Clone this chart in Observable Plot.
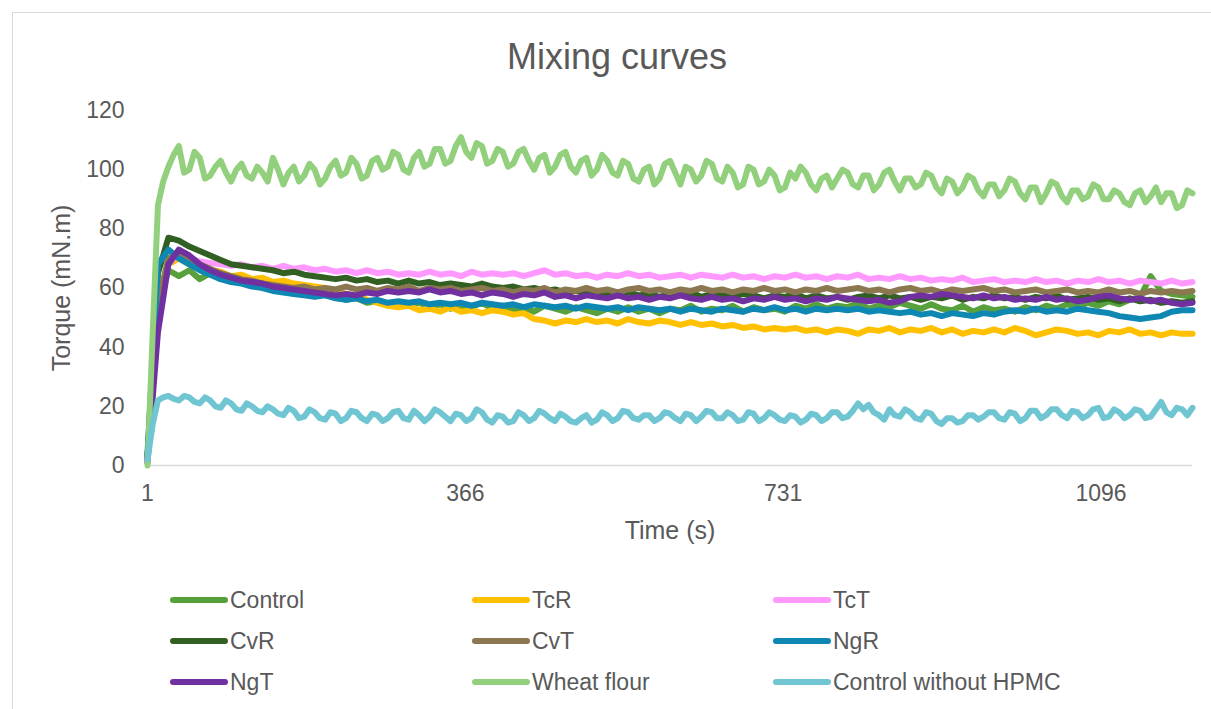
<!DOCTYPE html>
<html><head><meta charset="utf-8">
<script src="https://cdn.jsdelivr.net/npm/d3@7"></script>
<script src="https://cdn.jsdelivr.net/npm/@observablehq/plot@0.6"></script>
<style>
body{margin:0;background:#fff;}
#wrap{position:relative;width:1211px;height:709px;overflow:hidden;font-family:"Liberation Sans",Arial,sans-serif;color:#595959;}
#frame{position:absolute;left:12px;top:12px;width:1300px;height:800px;border:1.5px solid #d9d9d9;box-sizing:border-box;}
#title{position:absolute;left:0;width:1234px;top:35px;text-align:center;font-size:36px;line-height:44px;}
#chart{position:absolute;left:0;top:0;}
.item{position:absolute;display:flex;align-items:center;height:30px;font-size:23px;white-space:nowrap;}
.sw{width:58px;height:6px;border-radius:3px;margin-right:2px;}
</style></head>
<body><div id="wrap"><div id="frame"></div><div id="title">Mixing curves</div><div id="chart"></div></div>
<script>
const seriesNames = ["Control","TcR","TcT","CvR","CvT","NgR","NgT","Wheat flour","Control without HPMC"];
const seriesColors = ["#57a03b","#ffc000","#ff99ff","#325f22","#8b7851","#0f87b3","#7030a0","#92d07d","#6fc5d1"];
const xTicks = [1, 366, 731, 1096];
const yTicks = [0, 20, 40, 60, 80, 100, 120];
const tStart = 1, tEnd = 1201;

const control = [3,55,66,64,66,63,65,63,64,62,
63,61,61.5,60,60.5,58.5,59,57.5,57,56,
56.5,55,55.5,54.5,55,54,55,53.5,54.5,53,
54,53.5,55,53,54,52.5,53.5,52,54,53,
52,53.5,52.5,51.5,53,52,53.5,52,53,51.5,
53,52.5,54,52,53,52.5,54,52,53.5,52.5,
53,52,54,53,54.5,53,54,53.5,55,53,
54,53.5,55,54,53,54.5,53,52.5,54,52,
53.5,52.5,53,52,53.5,52.5,54,53,54.5,53.5,
55,54,55.5,54.5,56,57,64,59,58,57.5,
57];
const tcR = [2,50,68,70,68,67,66,65.5,64,64.5,
63,63.5,62,62.5,61.5,61,60.5,60,59,58,
57.5,56,55,54,53.5,54,52.5,53,52,53.5,
52,52.5,51.5,52.5,52,51,51.5,49.5,49,48,
49,48.5,49.5,48.5,49,48,49.5,48.5,48,49,
48.5,47.5,48.5,47.5,48,47,47.5,46.5,47,46,
46.5,46,46.5,45.5,46,45,46,45.5,44.5,46,
45.5,46.5,45,46,45.5,46.5,45,46,44.5,45.5,
45,46,45,46.5,45.5,44,45,46,45.5,44.5,
45,44,45.5,45,46,44.5,45,44,45,44.5,
44.5];
const tcT = [2,52,68,72,70,69,68.5,68,67.5,68,
67,67.5,66.5,67.5,66.5,67,66,66.5,65.5,66,
65,66,65,65.5,64.5,65,64.5,65.5,64.5,65,
64,65.5,64.5,65,64.5,65,64,65,66,64.5,
65,64,64.5,63.5,64.5,64,65,64,64.5,63.5,
64,64.5,63.5,64.5,64,63.5,64.5,63.5,64,63,
64,63.5,64.5,63.5,64,63,64,63.5,64.5,63,
63.5,63,64,63,63.5,62.5,63,62.5,63.5,62,
62.5,63,62,62.5,62,63,62,62.5,61.5,62.5,
62,63,62,62.5,61.5,62.5,62,61.5,62.5,61.5,
62];
const cvR = [3,65,77,76,74,72.5,71,69.5,68,67.5,
67,66.5,66,65,65.5,64.5,64,63.5,63,63.5,
62.5,63,62,62.5,61.5,62.5,61.5,62,61,61.5,
61,60.5,61.5,60.5,60,60.5,59.5,60,59,59.5,
58.5,59,58,58.5,58,57.5,58.5,57.5,58,57,
58,57.5,58.5,57,58,57.5,57,58,57.5,56.5,
57.5,57,58,56.5,57.5,56.5,57,56,57,57.5,
56.5,57.5,56.5,57,56,57,56.5,57.5,56,57,
56.5,57.5,56.5,57,56,57,56.5,57.5,56,56.5,
57,56,56.5,55.5,56.5,55.5,56,55,55.5,55,
55.5];
const cvT = [2,55,70,72,70,68,66.5,65,64,63,
62.5,61.5,61,60.5,60,60.5,59.5,60,59.5,60.5,
59.5,60,59,60,59.5,60.5,59,60,59.5,60,
59,59.5,60,59,59.5,58.5,59.5,59,60,58.5,
59.5,59,60,59,59.5,58.5,59.5,60,59,59.5,
58.5,59.5,59,60,59,59.5,58.5,59.5,59,60,
59,59.5,58.5,59.5,59,60,59,59.5,60,59,
59.5,58.5,59.5,60,59,59.5,58.5,59.5,59,59.5,
60,59,59.5,58.5,59,59.5,58.5,59,59.5,58.5,
59,58.5,59.5,58.5,59,58,59,58.5,59,58.5,
59];
const ngR = [4,68,73,70,68,66,64.5,63,62,61.5,
60.5,60,59,58.5,58,57.5,57,57.5,56.5,56,
56.5,55.5,56,55,55.5,55,55.5,54.5,55,54.5,
55,54,55,54.5,54,54.5,53.5,54.5,54,53.5,
54,53,54,53.5,53,53.5,52.5,53.5,53,52.5,
53,52,53,52.5,52,53,52.5,52,53,52.5,
53.5,52.5,53,52,53,52.5,53,52.5,53,52,
52.5,52,51.5,52,51,51.5,50.5,51.5,51,50.5,
51.5,51,52,52.5,52,53,52,52.5,52,53,
52.5,52,51.5,50.5,50,49.5,50,50.5,52,52.5,
52.5];
const ngT = [1,45,68,73,71,68,66,64.5,63.5,62.5,
62,61.5,60.5,60,59.5,59,58.5,58,57.5,58,
57.5,58.5,58,59,58.5,59,58.5,59.5,58.5,59,
58,58.5,57.5,58.5,58,57,58,57.5,58.5,57,
57.5,56.5,57.5,57,56.5,57.5,56.5,57,56,57,
56.5,57.5,56.5,56,57,56,56.5,55.5,56.5,56,
57,56,56.5,55.5,56.5,56,57,56.5,56,55.5,
56,55,55.5,57,57.5,57,58,57.5,57,56.5,
57.5,56.5,57,56,56.5,56,57,56,56.5,55.5,
56,57,57.5,56.5,56,56.5,55.5,56,55,54.5,
55];
const wheatFlour = [0,45,88,96,101,105,108,99,100,106,104,97,98,101,103,99,96,100,102,98,
97,101,99,96,104,100,95,99,101,96,98,102,100,95,97,101,103,98,99,104,
102,97,98,103,104,100,101,106,105,100,99,104,106,101,102,107,107,102,103,108,
111,106,104,109,108,102,103,107,106,101,102,106,107,103,100,104,105,99,101,105,
106,101,99,103,104,98,100,105,103,99,98,103,102,97,96,100,101,95,97,102,
103,99,95,101,100,96,98,103,102,97,96,101,99,94,95,101,100,95,96,100,
98,93,94,99,97,101,99,95,93,97,98,94,97,100,99,95,94,98,98,93,
95,99,100,96,93,97,97,94,95,99,98,94,92,97,96,92,94,98,97,93,
91,95,95,91,93,97,96,92,90,94,94,89,92,96,95,91,89,93,93,90,
91,95,94,90,90,93,92,89,88,92,93,89,91,94,89,92,92,87,88,93,
92];
const controlNoHPMC = [2,14,22,23,23.5,22.5,22,23.5,23,21.5,21,23,22,20,19.5,22,21,19,18.5,21,
20,18.5,18,20,19,17.5,17,19.5,18.5,16,16.5,19,18,16,15.5,18,17.5,15,16,18.5,
18,16,15,17.5,17,15,16,18,18.5,16,15.5,18.5,17,15,16.5,19,18,16.5,15,17.5,
17,15,16,19,18,15.5,14.5,17,16.5,14.5,15,18,17,15,16,18.5,17.5,16,15,17.5,
16.5,15,14.5,16,17,14.5,15.5,18,17,15,16,18.5,18,16,15.5,17,17,15,16,18,
17.5,16,15,17.5,17,15,16.5,18.5,18,16,16,18,17,15,15.5,18,17.5,15,16,18,
17,15.5,15,17,16.5,14.5,15.5,17.5,17,15,16,18,18,16,16.5,18.5,21,19,20.5,18,
17,15.5,19,17,16.5,19,18,16,15.5,18,17.5,15,14,16,16,14.5,15,17,17,15.5,
16.5,18,18,16,15.5,18,17.5,15,16,18.5,18.5,16,17,19,19,17,16,18.5,18,16,
17,19,19.5,16,16.5,19,18,16,17,19,18.5,16,16.5,19,21.5,18,17,19.5,19,17,
19.5];

const seriesValues = [control, tcR, tcT, cvR, cvT, ngR, ngT, wheatFlour, controlNoHPMC];
const data = seriesNames.flatMap((name, s) => {
  const vals = seriesValues[s];
  const times = d3.range(vals.length).map(i => tStart + i * (tEnd - tStart) / (vals.length - 1));
  return vals.map((v, i) => ({t: times[i], v, name}));
});

const chart = Plot.plot({
  width: 1211, height: 709,
  marginLeft: 147, marginRight: 19, marginTop: 110, marginBottom: 244,
  style: {fontFamily: "Liberation Sans, Arial, sans-serif", fontSize: "23px", color: "#595959", background: "transparent"},
  x: {domain: [tStart, tEnd]},
  y: {domain: [0, 120]},
  color: {domain: seriesNames, range: seriesColors},
  marks: [
    Plot.axisY({ticks: yTicks, tickSize: 0, tickPadding: 23, label: null}),
    Plot.axisX({ticks: xTicks, tickSize: 0, tickPadding: 19, label: null, tickFormat: d => String(d)}),
    Plot.ruleY([0], {stroke: "#d9d9d9", strokeWidth: 1.5}),
    Plot.line(data, {x: "t", y: "v", z: "name", stroke: "name", strokeWidth: 6, strokeLinejoin: "round", strokeLinecap: "round"}),
    Plot.text(["Torque (mN.m)"], {frameAnchor: "left", dx: -86, rotate: -90, textAnchor: "middle", lineAnchor: "middle", fontSize: 25, fill: "#595959"}),
    Plot.text(["Time (s)"], {frameAnchor: "bottom", dy: 65, textAnchor: "middle", lineAnchor: "middle", fontSize: 25, fill: "#595959"})
  ]
});
document.getElementById("chart").appendChild(chart);

const wrap = document.getElementById("wrap");
const colX = [170, 472, 773], rowY = [600, 641, 682];
seriesNames.forEach((name, i) => {
  const item = document.createElement("div");
  item.className = "item";
  item.style.left = colX[i % 3] + "px";
  item.style.top = (rowY[Math.floor(i / 3)] - 15) + "px";
  const sw = document.createElement("div");
  sw.className = "sw";
  sw.style.background = seriesColors[i];
  const tx = document.createElement("span");
  tx.textContent = name;
  item.appendChild(sw); item.appendChild(tx);
  wrap.appendChild(item);
});
</script></body></html>
